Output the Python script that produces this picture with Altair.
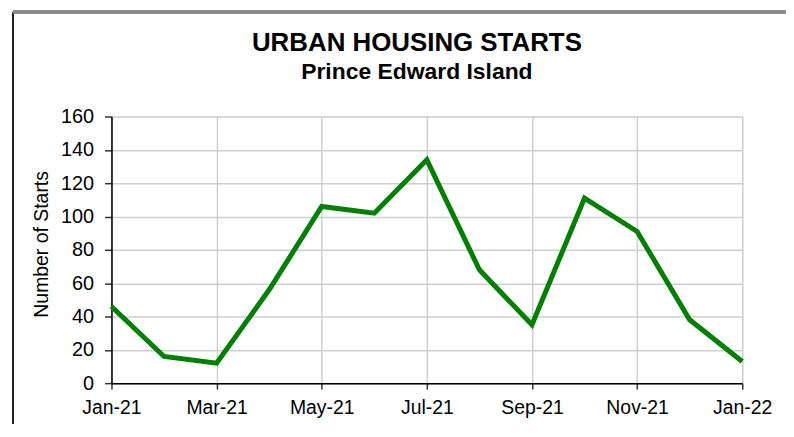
import altair as alt
import pandas as pd
import json

months = ["Jan-21", "Feb-21", "Mar-21", "Apr-21", "May-21", "Jun-21", "Jul-21",
          "Aug-21", "Sep-21", "Oct-21", "Nov-21", "Dec-21", "Jan-22"]
starts = [46, 16, 12, 56, 106, 102, 134, 68, 35, 111, 91, 38, 13]
y_ticks = [0, 20, 40, 60, 80, 100, 120, 140, 160]
x_ticks = [0, 2, 4, 6, 8, 10, 12]

df = pd.DataFrame({"idx": list(range(len(months))), "month": months, "starts": starts})

FONT = "Liberation Sans"
label_expr = json.dumps(months) + "[datum.value]"

line = alt.Chart(df).mark_line(color="#008000", strokeWidth=5, clip=False).encode(
    x=alt.X("idx:Q",
            scale=alt.Scale(domain=[0, 12], nice=False, zero=False),
            axis=alt.Axis(values=x_ticks, labelExpr=label_expr, title=None,
                          grid=True, gridColor="#cfcfcf", gridWidth=1.5,
                          domainColor="#000000", domainWidth=1.5,
                          tickColor="#333333", tickSize=6, tickWidth=1.5,
                          labelFont=FONT, labelFontSize=19.5, labelColor="#000000",
                          labelPadding=10, labelFlush=False)),
    y=alt.Y("starts:Q",
            scale=alt.Scale(domain=[0, 160], nice=False),
            axis=alt.Axis(values=y_ticks, title="Number of Starts",
                          titleFont=FONT, titleFontSize=19.5, titleFontWeight="normal",
                          titleColor="#000000", titlePadding=9, titleY=128,
                          grid=True, gridColor="#cfcfcf", gridWidth=1.5,
                          domainColor="#000000", domainWidth=1.5,
                          tickColor="#333333", tickSize=7, tickWidth=1.5,
                          labelFont=FONT, labelFontSize=20, labelColor="#000000",
                          labelPadding=11)),
)

frame_left = alt.Chart(df).mark_rule(color="#222222", strokeWidth=1.5, clip=False).encode(
    x=alt.value(-99), y=alt.value(-105), y2=alt.value(330)
)
frame_top = alt.Chart(df).mark_rule(color="#8a8a8a", strokeWidth=2.5, clip=False).encode(
    x=alt.value(-99), x2=alt.value(700), y=alt.value(-105)
)

chart = alt.layer(frame_left, frame_top, line).properties(
    width=634,
    height=268,
    autosize=alt.AutoSizeParams(type="none"),
    padding={"left": 104, "top": 108, "right": 44, "bottom": 40},
    title=alt.TitleParams(
        text="URBAN HOUSING STARTS",
        subtitle="Prince Edward Island",
        anchor="middle",
        dx=-10,
        offset=-74,
        font=FONT,
        fontSize=26,
        fontWeight="bold",
        color="#000000",
        subtitleFont=FONT,
        subtitleFontSize=23,
        subtitleFontWeight="bold",
        subtitleColor="#000000",
        subtitlePadding=6,
    ),
).configure_view(
    stroke="#8a8a8a", strokeWidth=2
).configure(background="#ffffff")

chart.save("out.html", embed_options={"renderer": "svg", "actions": False})
